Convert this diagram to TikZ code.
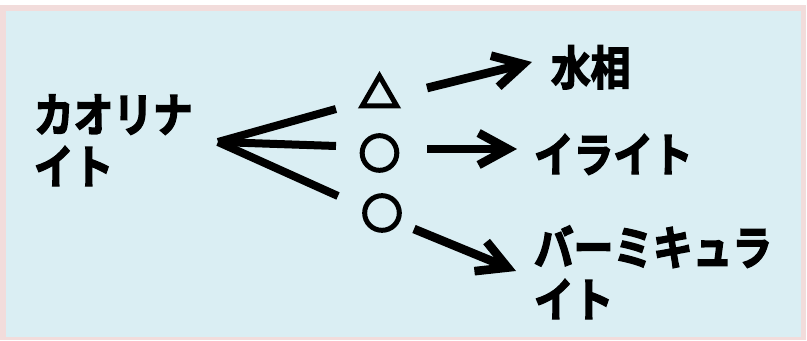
\documentclass[tikz,border=0pt]{standalone}
\usepackage{fontspec}
\newfontfamily\jp{Noto Sans CJK JP Bold}[FakeBold=3,FakeStretch=0.85]
\usetikzlibrary{arrows.meta,shapes.geometric}
\definecolor{bgblue}{HTML}{DAEEF3}
\definecolor{bdpink}{HTML}{F2DCDB}
\begin{document}
\begin{tikzpicture}[x=0.75pt,y=-0.75pt,
  lbl/.style={font=\jp\fontsize{35pt}{39pt}\selectfont, inner sep=0pt, outer sep=0pt, anchor=base west, align=left},
  fanline/.style={line width=6pt},
  arr/.style={line width=6.5pt, -{Straight Barb[length=22pt,width=24pt]}},
  sym/.style={draw, line width=3.75pt, inner sep=0pt, outer sep=0pt}]
\fill[white] (0,0) rectangle (807,341);
\useasboundingbox (0,0) rectangle (807,341);
\fill[bdpink] (0,5) rectangle (806,340);
\fill[bgblue] (6,11) rectangle (801,337);
% labels (base = baseline of last line)
\node[lbl] (kao) at (34,184) {カオリナ\\イト};
\node[lbl] (sui) at (551,85) {水相};
\node[lbl] (ill) at (534,172) {イライト};
\node[lbl] (ver) at (534,317) {バーミキュラ\\イト};
% symbols
\node[sym, regular polygon, regular polygon sides=3, minimum size=30pt] (tri) at (379.5,96) {};
\node[sym, circle, minimum size=26pt] (c1) at (379.5,153) {};
\node[sym, circle, minimum size=26pt] (c2) at (382,213) {};
% fan
\coordinate (apex) at (218,142);
\coordinate (f1) at (336,109);
\coordinate (f2) at (336,146);
\coordinate (f3) at (338,196);
\draw[fanline] (apex) -- (f1);
\draw[fanline] (apex) -- (f2);
\draw[fanline] (apex) -- (f3);
% arrows
\coordinate (a1s) at (427,88);
\coordinate (a1e) at (532,62);
\coordinate (a2s) at (427,149);
\coordinate (a2e) at (517,149);
\coordinate (a3s) at (414,229);
\coordinate (a3e) at (516,271);
\draw[arr] (a1s) -- (a1e);
\draw[arr] (a2s) -- (a2e);
\draw[arr] (a3s) -- (a3e);
\end{tikzpicture}
\end{document}
